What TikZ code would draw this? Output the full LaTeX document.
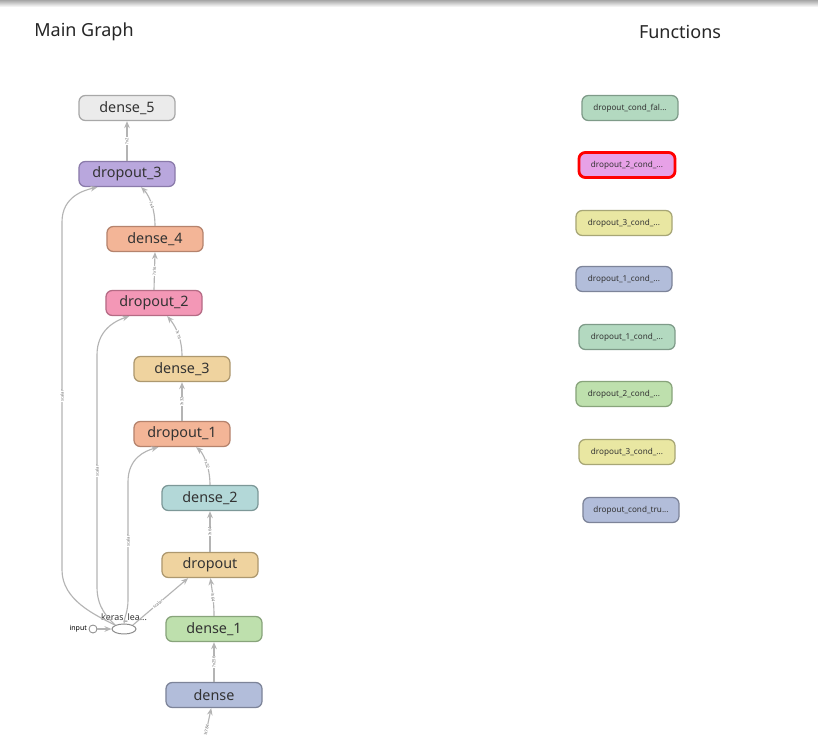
\documentclass[tikz,border=0pt]{standalone}
\usepackage{fontspec}
\setmainfont{Noto Sans}
\usetikzlibrary{arrows.meta,shapes.geometric}

\definecolor{txt}{HTML}{333333}
\definecolor{edge}{HTML}{B4B4B4}
\definecolor{lbl}{HTML}{6E6E6E}
\definecolor{f_gray}{HTML}{EBEBEB}   \definecolor{d_gray}{HTML}{A8A8A8}
\definecolor{f_purple}{HTML}{B9A7DD} \definecolor{d_purple}{HTML}{8A7AAA}
\definecolor{f_salmon}{HTML}{F3B597} \definecolor{d_salmon}{HTML}{B5836D}
\definecolor{f_pink}{HTML}{F397B6}   \definecolor{d_pink}{HTML}{B56B85}
\definecolor{f_sand}{HTML}{EFD39F}   \definecolor{d_sand}{HTML}{AD986F}
\definecolor{f_teal}{HTML}{B3D8D8}   \definecolor{d_teal}{HTML}{7D9898}
\definecolor{f_green}{HTML}{BEE0AD}  \definecolor{d_green}{HTML}{88A47B}
\definecolor{f_blue}{HTML}{B2BDDA}   \definecolor{d_blue}{HTML}{7D8499}
\definecolor{f_mint}{HTML}{B3D9C0}   \definecolor{d_mint}{HTML}{7F9B89}
\definecolor{f_violet}{HTML}{E7A1E7}
\definecolor{f_yellow}{HTML}{E9E7A2} \definecolor{d_yellow}{HTML}{A7A676}

\begin{document}
\begin{tikzpicture}[x=0.025cm,y=-0.025cm,
	op_node/.style={rectangle,rounded corners=4.5pt,draw,line width=0.9pt,minimum width=2.4cm,minimum height=0.625cm,inner sep=0pt,font=\fontsize{10.2}{11}\selectfont,text=txt},
	fn_node/.style={op_node,font=\fontsize{5.8}{7}\selectfont},
	title_text/.style={font=\fontsize{12.8}{14}\selectfont,text=black!85},
	edge_line/.style={draw=edge,line width=0.8pt,-{Stealth[length=5pt,width=4pt]}},
	edge_lbl/.style={font=\fontsize{3}{3.5}\selectfont,text=lbl,sloped,fill=white,inner sep=0.3pt}]
	\fill[white] (0,0) rectangle (818,736);
	\useasboundingbox (0,0) rectangle (818,736);
	\shade[top color=black!35,bottom color=white] (0,0) rectangle (818,7);

	\node[title_text] (main_title) at (84,32) {Main Graph};
	\node[title_text] (fn_title) at (680,32) {Functions};

	% main graph
	\node[op_node,fill=f_gray,draw=d_gray] (dense_5) at (127,108) {dense\_5};
	\node[op_node,fill=f_purple,draw=d_purple] (dropout_3) at (127,174) {dropout\_3};
	\node[op_node,fill=f_salmon,draw=d_salmon] (dense_4) at (155,239) {dense\_4};
	\node[op_node,fill=f_pink,draw=d_pink] (dropout_2) at (154,303) {dropout\_2};
	\node[op_node,fill=f_sand,draw=d_sand] (dense_3) at (182,369) {dense\_3};
	\node[op_node,fill=f_salmon,draw=d_salmon] (dropout_1) at (182,434) {dropout\_1};
	\node[op_node,fill=f_teal,draw=d_teal] (dense_2) at (210,498) {dense\_2};
	\node[op_node,fill=f_sand,draw=d_sand] (dropout) at (210,565) {dropout};
	\node[op_node,fill=f_green,draw=d_green] (dense_1) at (214,629) {dense\_1};
	\node[op_node,fill=f_blue,draw=d_blue] (dense) at (214,695) {dense};
	\coordinate (dense_src) at (204,742);

	\node[ellipse,draw=black!45,fill=white,line width=0.7pt,minimum width=0.6cm,minimum height=0.25cm,inner sep=0pt,
		label={[font=\fontsize{6.3}{7}\selectfont,text=txt,inner sep=1pt]above:keras\_lea...}] (keras) at (124,629) {};
	\node[circle,draw=black!45,line width=0.6pt,minimum size=0.2cm,inner sep=0pt,
		label={[font=\fontsize{5}{6}\selectfont,text=black,inner sep=1pt]left:input}] (input) at (93,629) {};

	\draw[edge_line] (dense_src) -- node[edge_lbl,pos=0.35] {?x784} (dense);
	\draw[edge_line] (dense) -- node[edge_lbl] {?x256} (dense_1);
	\draw[edge_line] (dense_1.north) .. controls (214,600) and (212,590) .. (dropout.-88) node[edge_lbl,pos=0.45] {?x64};
	\draw[edge_line] (dropout) -- node[edge_lbl] {?x64} (dense_2);
	\draw[edge_line] (dense_2.north) .. controls (210,465) and (202,452) .. (dropout_1.-43) node[edge_lbl,pos=0.4] {?x32};
	\draw[edge_line] (dropout_1) -- node[edge_lbl] {?x32} (dense_3);
	\draw[edge_line] (dense_3.north) .. controls (182,335) and (173,323) .. (dropout_2.-45) node[edge_lbl,pos=0.4] {?x16};
	\draw[edge_line] (dropout_2.north) -- node[edge_lbl] {?x16} (dense_4.south);
	\draw[edge_line] (dense_4.north) .. controls (155,205) and (147,193) .. (dropout_3.-43) node[edge_lbl,pos=0.4] {?x4};
	\draw[edge_line] (dropout_3) -- node[edge_lbl] {?x2} (dense_5);

	\draw[edge_line] (input) -- (keras);
	\draw[edge_line] (keras.north west) .. controls (95,615) and (62,600) .. (62,570)
		-- node[edge_lbl] {scalar} (62,222) .. controls (62,196) and (85,190) .. (dropout_3.-156);
	\draw[edge_line] (keras.north west) .. controls (107,617) and (97,607) .. (97,587)
		-- node[edge_lbl] {scalar} (97,355) .. controls (97,330) and (115,321) .. (dropout_2.-152);
	\draw[edge_line] (keras.north) .. controls (124,618) and (128,612) .. (128,600)
		-- node[edge_lbl] {scalar} (128,482) .. controls (128,458) and (145,451) .. (dropout_1.-151);
	\draw[edge_line] (keras.north east) -- node[edge_lbl,pos=0.45] {scalar} (dropout.-149);

	% functions
	\node[fn_node,fill=f_mint,draw=d_mint] (fn_1) at (630,108) {dropout\_cond\_fal...};
	\node[fn_node,fill=f_violet,draw=red,line width=2pt] (fn_2) at (627,165) {dropout\_2\_cond\_...};
	\node[fn_node,fill=f_yellow,draw=d_yellow] (fn_3) at (624,223) {dropout\_3\_cond\_...};
	\node[fn_node,fill=f_blue,draw=d_blue] (fn_4) at (624,279) {dropout\_1\_cond\_...};
	\node[fn_node,fill=f_mint,draw=d_mint] (fn_5) at (627,337) {dropout\_1\_cond\_...};
	\node[fn_node,fill=f_green,draw=d_green] (fn_6) at (624,394) {dropout\_2\_cond\_...};
	\node[fn_node,fill=f_yellow,draw=d_yellow] (fn_7) at (627,452) {dropout\_3\_cond\_...};
	\node[fn_node,fill=f_blue,draw=d_blue] (fn_8) at (631,510) {dropout\_cond\_tru...};
\end{tikzpicture}
\end{document}
